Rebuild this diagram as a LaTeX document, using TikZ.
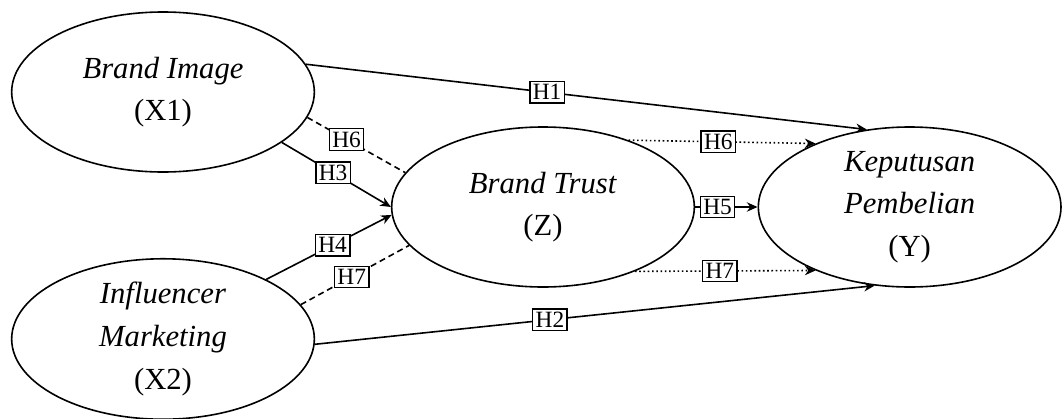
\documentclass[tikz,border=0pt]{standalone}
\usepackage{fontspec}
\setmainfont{Liberation Serif}
\usetikzlibrary{shapes.geometric,arrows.meta}

\tikzset{
  construct/.style={draw, ellipse, minimum width=227pt, minimum height=120pt,
    inner sep=0pt, align=center, font=\fontsize{23}{32}\selectfont},
  hyp/.style={draw, solid, fill=white, line width=1pt, inner sep=2.2pt,
    font=\fontsize{17.5}{17.5}\selectfont},
}

\begin{document}
\begin{tikzpicture}[x=0.75pt, y=-0.75pt, line width=1.2pt,
    >={Stealth[length=8pt, width=7pt]}]
  \useasboundingbox (0,0) rectangle (1063,418);

  \node[construct](image) at (163,92){\textit{Brand Image}\\(X1)};
  \node[construct](influencer) at (163,339){\textit{Influencer}\\\textit{Marketing}\\(X2)};
  \node[construct](trust) at (543,207){\textit{Brand Trust}\\(Z)};
  \node[construct, right of=trust, node distance=275pt](decision){\textit{Keputusan}\\\textit{Pembelian}\\(Y)};

  % direct effects
  \draw[->] (image.11) -- node[hyp, pos=0.43]{H1} (decision.119);
  \draw[->] (influencer.-2) -- node[hyp, pos=0.42]{H2} (decision.246);
  \draw[->] (image.-23) -- node[hyp, pos=0.47]{H3} (trust.180);
  \draw[->] (influencer.30) -- node[hyp, pos=0.53]{H4} (trust.183);
  \draw[->] (trust) -- node[hyp, pos=0.36]{H5} (decision);

  % mediation via brand trust
  \draw[dash pattern=on 4.5pt off 3pt] (image.-10) -- node[hyp, pos=0.4]{H6} (trust.166);
  \draw[dash pattern=on 4.5pt off 3pt] (influencer.14) -- node[hyp, pos=0.47]{H7} (trust.196);
  \draw[->, dotted] (trust.38) -- node[hyp, pos=0.48]{H6} (decision.146);
  \draw[->, dotted] (trust.-35) -- node[hyp, pos=0.47]{H7} (decision.214);
\end{tikzpicture}
\end{document}
